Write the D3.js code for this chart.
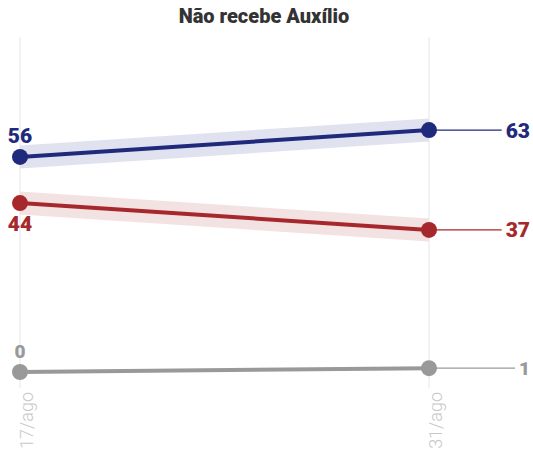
<!DOCTYPE html>
<html>
<head>
<meta charset="utf-8">
<script src="https://cdn.jsdelivr.net/npm/d3@7"></script>
<style>
  html, body { margin: 0; padding: 0; background: #fff; }
  svg { display: block; font-family: Roboto, "Open Sans", sans-serif; }
</style>
</head>
<body>
<svg id="chart" width="533" height="455"></svg>
<script>
const title = "Não recebe Auxílio";
const dates = ["17/ago", "31/ago"];
const blueValues = [56, 63];
const redValues = [44, 37];
const grayValues = [0, 1];
const bandMargin = [3, 3, 0];
const seriesNames = ["azul", "vermelho", "cinza"];

const series = [
  { name: seriesNames[0], values: blueValues, color: "#1f2a7c", band: "#e1e2f0", margin: bandMargin[0], labelPos: "above", size: 21 },
  { name: seriesNames[1], values: redValues, color: "#a7282c", band: "#f3e2e2", margin: bandMargin[1], labelPos: "below", size: 21 },
  { name: seriesNames[2], values: grayValues, color: "#999999", band: "#eeeeee", margin: bandMargin[2], labelPos: "above", size: 19 }
];

const svg = d3.select("#chart");
const x = d3.scalePoint().domain(dates).range([20, 429]);
const y = d3.scaleLinear().domain([0, 100]).range([372, -12]);

svg.append("text")
  .attr("x", 264).attr("y", 23)
  .attr("text-anchor", "middle")
  .attr("font-size", 20).attr("font-weight", 900)
  .attr("fill", "#333")
  .text(title);

// gridlines
svg.append("g").selectAll("line").data(dates).join("line")
  .attr("x1", d => x(d)).attr("x2", d => x(d))
  .attr("y1", 37).attr("y2", 388)
  .attr("stroke", "#e6e6e6").attr("stroke-width", 1);

// tick labels
svg.append("g").selectAll("text").data(dates).join("text")
  .attr("transform", d => `translate(${x(d) + 7},392) rotate(-90)`)
  .attr("text-anchor", "end")
  .attr("dy", "0.35em")
  .attr("font-size", 18).attr("font-weight", 300)
  .attr("fill", "#c8c8c8")
  .text(d => d);

const area = d3.area()
  .x((d, i) => x(dates[i]))
  .y0(d => y(d.v - d.m))
  .y1(d => y(d.v + d.m));
const line = d3.line()
  .x((d, i) => x(dates[i]))
  .y(d => y(d));

series.forEach(s => {
  const g = svg.append("g");
  if (s.margin > 0) {
    g.append("path")
      .datum(s.values.map(v => ({ v, m: s.margin })))
      .attr("d", area)
      .attr("fill", s.band);
  }
  g.append("path")
    .datum(s.values)
    .attr("d", line)
    .attr("fill", "none")
    .attr("stroke", s.color)
    .attr("stroke-width", 4);

  // right label & connector
  const last = s.values[s.values.length - 1];
  const lx = x(dates[dates.length - 1]);
  const lbl = g.append("text")
    .attr("x", 530).attr("y", y(last))
    .attr("dy", "0.36em")
    .attr("text-anchor", "end")
    .attr("font-size", s.size).attr("font-weight", 900)
    .attr("fill", s.color)
    .text(last);
  const w = lbl.node().getComputedTextLength();
  g.append("line")
    .attr("x1", lx).attr("x2", 530 - w - 4)
    .attr("y1", y(last)).attr("y2", y(last))
    .attr("stroke", s.color).attr("stroke-width", 1.3);

  g.selectAll("circle").data(s.values).join("circle")
    .attr("cx", (d, i) => x(dates[i]))
    .attr("cy", d => y(d))
    .attr("r", 8)
    .attr("fill", s.color);

  // left label
  const first = s.values[0];
  g.append("text")
    .attr("x", x(dates[0]))
    .attr("y", s.labelPos === "above" ? y(first) - 14 : y(first) + 28)
    .attr("text-anchor", "middle")
    .attr("font-size", s.size).attr("font-weight", 900)
    .attr("fill", s.color)
    .text(first);
});
</script>
</body>
</html>
